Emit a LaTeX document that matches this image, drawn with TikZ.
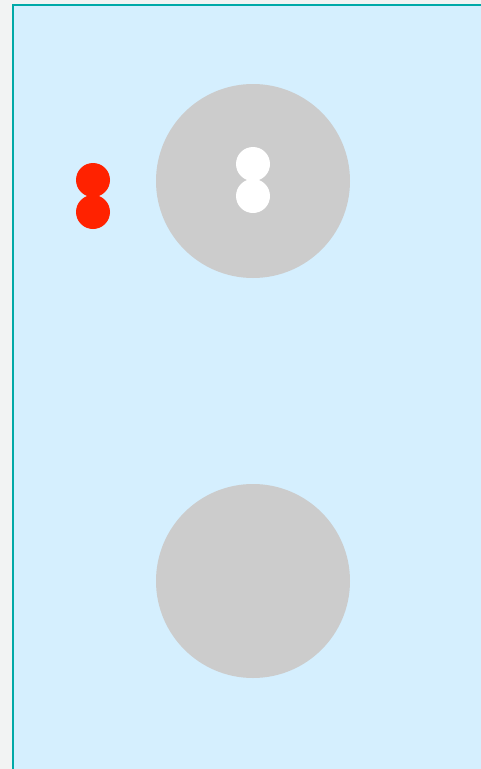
\documentclass[tikz,border=0pt]{standalone}
\definecolor{bgout}{HTML}{F2F3F3}
\definecolor{panel}{HTML}{D5EFFE}
\definecolor{teal2}{HTML}{00A9A8}
\definecolor{disc}{HTML}{CCCCCC}
\definecolor{redd}{HTML}{FF2200}
\tikzset{
  bigdisc/.style={circle, fill=disc, draw=none, minimum size=194pt, inner sep=0pt},
  reddot/.style={circle, fill=redd, draw=none, minimum size=34pt, inner sep=0pt},
  whitedot/.style={circle, fill=white, draw=none, minimum size=34pt, inner sep=0pt}
}
\begin{document}
\begin{tikzpicture}[x=1pt,y=-1pt]
\useasboundingbox (0,0) rectangle (481,769);
\fill[bgout] (0,0) rectangle (481,769);
\draw[teal2, line width=2pt, fill=panel] (13,5) rectangle (490,780);
\node[bigdisc] (top) at (253,181) {};
\node[bigdisc] (bottom) at (253,581) {};
\node[reddot] (r1) at (93,180) {};
\node[reddot] (r2) at (93,212) {};
\node[whitedot] (w1) at (253,164) {};
\node[whitedot] (w2) at (253,196) {};
\end{tikzpicture}
\end{document}
